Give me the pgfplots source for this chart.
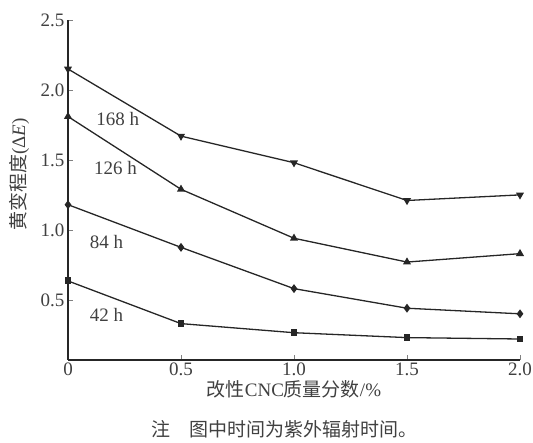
\documentclass[border=0pt]{standalone}
\usepackage{pgfplots}
\pgfplotsset{compat=1.18}
\usepackage{fontspec}
\setmainfont{Liberation Serif}
\newfontfamily\cjk{Noto Sans CJK SC}
\begin{document}
\begin{tikzpicture}[font=\fontsize{19}{22}\selectfont]
\useasboundingbox (0,0) rectangle (533pt,443pt);
\begin{axis}[
  at={(68pt,83pt)}, anchor=south west,
  scale only axis, width=452pt, height=340pt,
  xmin=0, xmax=2.0, ymin=0.07, ymax=2.5,
  axis lines=left, axis line style={-, line width=1.3pt, black!85},
  tick align=inside, major tick length=5pt,
  xtick={0,0.5,1.0,1.5,2.0}, xticklabels={0,0.5,1.0,1.5,2.0},
  ytick={0.5,1.0,1.5,2.0,2.5}, yticklabels={0.5,1.0,1.5,2.0,2.5},
  tick label style={font=\fontsize{19}{22}\selectfont, text=black!75},
  xticklabel style={yshift=1pt},
  /pgf/number format/assume math mode=true,
  xlabel={{\cjk 改性}CNC{\cjk 质量分数}/\%},
  xlabel style={font=\fontsize{19}{22}\selectfont, text=black!75, yshift=-1pt, inner sep=1pt},
  clip=false,
  every axis plot/.append style={line width=1.3pt, black!85, mark size=3.4pt, mark options={solid, fill=black!85}},
]
\addplot[mark=triangle*, mark options={rotate=180}] coordinates {(0,2.15) (0.5,1.67) (1.0,1.48) (1.5,1.21) (2.0,1.25)};
\addplot[mark=triangle*] coordinates {(0,1.81) (0.5,1.29) (1.0,0.94) (1.5,0.77) (2.0,0.83)};
\addplot[mark=diamond*] coordinates {(0,1.18) (0.5,0.875) (1.0,0.58) (1.5,0.44) (2.0,0.40)};
\addplot[mark=square*, mark size=2.8pt] coordinates {(0,0.635) (0.5,0.33) (1.0,0.265) (1.5,0.23) (2.0,0.22)};
\node[text=black!75] at (axis cs:0.22,1.79) {168 h};
\node[text=black!75] at (axis cs:0.21,1.44) {126 h};
\node[text=black!75] at (axis cs:0.17,0.915) {84 h};
\node[text=black!75] at (axis cs:0.17,0.39) {42 h};
\node[rotate=90, text=black!75] at ([xshift=-49pt]rel axis cs:0,0.545) {{\cjk 黄变程度}(Δ\textit{E})};
\node[text=black!75] at ([yshift=-69pt]rel axis cs:0.48,0) {{\cjk 注\quad 图中时间为紫外辐射时间。}};
\end{axis}
\end{tikzpicture}
\end{document}
